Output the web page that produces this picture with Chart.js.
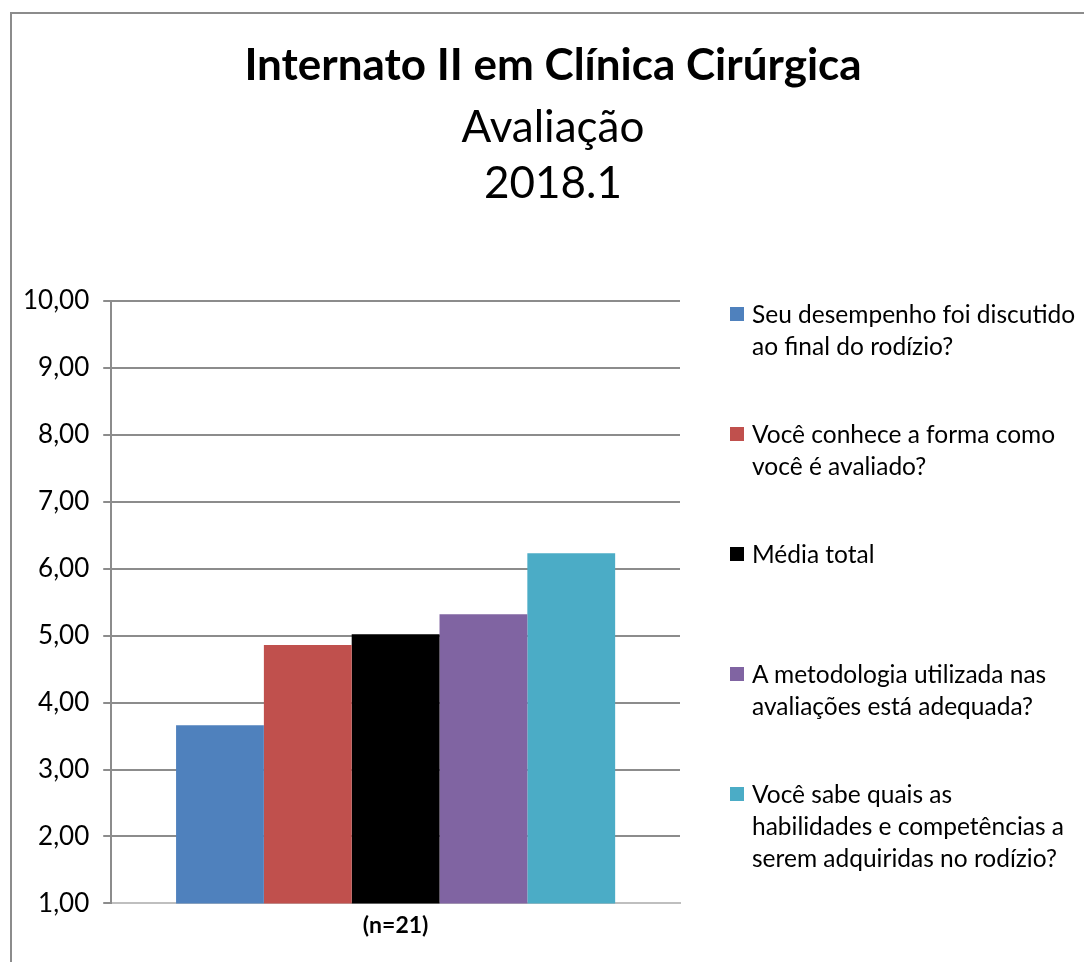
<!DOCTYPE html>
<html>
<head>
<meta charset="utf-8">
<script src="https://cdn.jsdelivr.net/npm/chart.js@4"></script>
<style>
  html, body { margin: 0; padding: 0; background: #fff; overflow: hidden; }
  #wrap { position: absolute; left: 10px; top: 12px; width: 1086px; height: 960px;
          border: 2px solid #8c8c8c; box-sizing: border-box; }
  #chart { position: absolute; left: -3px; top: 0; }
  #titles { position: absolute; left: 0; top: 0; width: 100%; text-align: center;
            font-family: Lato, sans-serif; color: #000; }
  #titles div { position: absolute; left: 0; width: 100%; }
  #t1 { top: 23px; font-size: 44px; font-weight: bold; }
  #t2 { top: 85px; font-size: 44px; }
  #t3 { top: 141px; font-size: 44px; }
  #legend { position: absolute; left: 718px; top: 284px; font-family: Lato, sans-serif;
            font-size: 24.5px; color: #000; }
  .item { height: 120px; display: flex; align-items: flex-start; }
  .box { width: 14px; height: 14px; margin-top: 9px; margin-right: 8px; flex: none; }
  .txt { line-height: 32px; }
</style>
</head>
<body>
<div id="wrap">
  <canvas id="chart" width="1082" height="956"></canvas>
  <div id="titles"><div id="t1"></div><div id="t2"></div><div id="t3"></div></div>
  <div id="legend"></div>
</div>
<script>
const titleLines = ["Internato II em Clínica Cirúrgica", "Avaliação", "2018.1"];
const categories = ["(n=21)"];
const seriesNames = [
  ["Seu desempenho foi discutido", "ao final do rodízio?"],
  ["Você conhece a forma como", "você é avaliado?"],
  ["Média total"],
  ["A metodologia utilizada nas", "avaliações está adequada?"],
  ["Você sabe quais as", "habilidades e competências a", "serem adquiridas no rodízio?"]
];
const seriesValues = [[3.66], [4.86], [5.02], [5.32], [6.23]];
const seriesColors = ["#4F81BD", "#C0504D", "#000000", "#8064A2", "#4BACC6"];
const yMin = 1, yMax = 10, yStep = 1;

// Titles
["t1", "t2", "t3"].forEach((id, i) => {
  document.getElementById(id).textContent = titleLines[i];
});

// Legend, built from the same arrays
const legend = document.getElementById("legend");
seriesNames.forEach((lines, i) => {
  const item = document.createElement("div");
  item.className = "item";
  item.innerHTML = `<span class="box" style="background:${seriesColors[i]}"></span>` +
    `<span class="txt">${lines.join("<br>")}</span>`;
  legend.appendChild(item);
});

const ctx = document.getElementById("chart").getContext("2d");
new Chart(ctx, {
  type: "bar",
  data: {
    labels: categories,
    datasets: seriesValues.map((vals, i) => ({
      label: seriesNames[i].join(" "),
      data: vals,
      backgroundColor: seriesColors[i],
      borderWidth: 0,
      barPercentage: 1,
      categoryPercentage: 0.772
    }))
  },
  options: {
    responsive: false,
    animation: false,
    layout: { padding: { left: 0, right: 411, top: 287, bottom: 31 } },
    plugins: {
      legend: { display: false },
      tooltip: { enabled: false }
    },
    scales: {
      x: {
        grid: { display: false },
        border: { display: true, color: "#bfbfbf", width: 2 },
        ticks: { color: "#000", font: { family: "Lato", size: 23, weight: "bold" }, padding: 0 }
      },
      y: {
        min: yMin,
        max: yMax,
        ticks: {
          stepSize: yStep,
          color: "#000",
          font: { family: "Lato", size: 26 },
          padding: 14,
          callback: v => v.toFixed(2).replace(".", ",")
        },
        grid: { color: "#8c8c8c", lineWidth: 2, tickLength: 8 },
        border: { display: true, color: "#8c8c8c", width: 2 }
      }
    }
  }
});
</script>
</body>
</html>
